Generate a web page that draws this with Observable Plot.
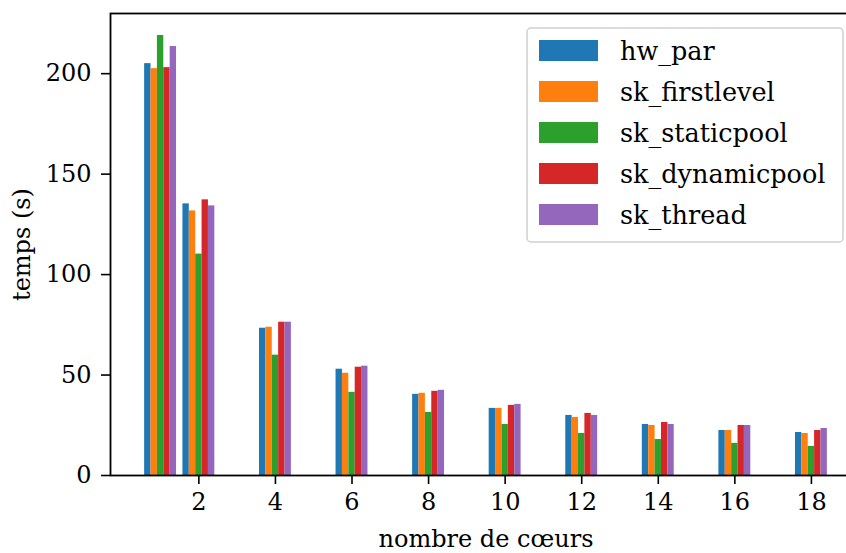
<!DOCTYPE html>
<html><head><meta charset="utf-8">
<script src="https://cdn.jsdelivr.net/npm/d3@7"></script>
<script src="https://cdn.jsdelivr.net/npm/@observablehq/plot@0.6"></script>
<style>
html,body{margin:0;padding:0;background:#fff;overflow:hidden;width:846px;height:553px}
#chart svg{max-width:none !important;}
</style>
</head><body><div id="chart"></div>
<script>
// ---- data ----
const cores = [1, 2, 4, 6, 8, 10, 12, 14, 16, 18];
const seriesNames = ["hw_par", "sk_firstlevel", "sk_staticpool", "sk_dynamicpool", "sk_thread"];
const hw_par         = [205.0, 135.2, 73.3, 52.9, 40.4, 33.4, 29.9, 25.4, 22.4, 21.4];
const sk_firstlevel  = [202.5, 131.7, 73.8, 50.9, 40.9, 33.4, 28.9, 24.9, 22.4, 20.9];
const sk_staticpool  = [219.0, 110.2, 59.9, 41.4, 31.4, 25.4, 20.9, 17.9, 16.0, 14.5];
const sk_dynamicpool = [203.0, 137.2, 76.3, 53.9, 41.9, 34.9, 30.9, 26.4, 24.9, 22.4];
const sk_thread      = [213.5, 134.2, 76.3, 54.4, 42.4, 35.4, 29.9, 25.4, 24.9, 23.4];
const colors = ["#1f77b4", "#ff7f0e", "#2ca02c", "#d62728", "#9467bd"];
const xTicks = [2, 4, 6, 8, 10, 12, 14, 16, 18];
const yTicks = [0, 50, 100, 150, 200];
const xLabel = "nombre de cœurs";
const yLabel = "temps (s)";

// ---- build table ----
const values = [hw_par, sk_firstlevel, sk_staticpool, sk_dynamicpool, sk_thread];
const barWidth = 1 / 6;
const rows = [];
seriesNames.forEach((s, i) => cores.forEach((c, j) => rows.push({
  series: s, cores: c, value: values[i][j],
  x1: c + (i - 2.5) * barWidth, x2: c + (i - 1.5) * barWidth
})));
const xmin = d3.min(rows, d => d.x1), xmax = d3.max(rows, d => d.x2);
const xpad = 0.05 * (xmax - xmin);
const ymax = d3.max(rows, d => d.value) * 1.05;

const FONT = "DejaVu Serif";
const W = 870;
const chart = Plot.plot({
  width: W, height: 553,
  marginLeft: 110, marginRight: 9, marginTop: 13, marginBottom: 78,
  style: {fontSize: "24px", background: "white", color: "black", maxWidth: "none", fontFamily: FONT},
  x: {domain: [xmin - xpad, xmax + xpad]},
  y: {domain: [0, ymax]},
  color: {domain: seriesNames, range: colors},
  marks: [
    Plot.rectY(rows, {x1: "x1", x2: "x2", y: "value", fill: "series"}),
    Plot.axisX({ticks: xTicks, tickSize: 9, tickPadding: 8, label: null, strokeWidth: 1.6}),
    Plot.axisY({ticks: yTicks, tickSize: 9, tickPadding: 10, label: null, strokeWidth: 1.6}),
    Plot.frame({stroke: "black", strokeWidth: 1.8}),
    Plot.text([xLabel], {text: d => d, frameAnchor: "bottom", lineAnchor: "middle", textAnchor: "middle", dy: 64, fontSize: 24}),
    Plot.text([yLabel], {text: d => d, frameAnchor: "left", lineAnchor: "middle", textAnchor: "middle", dx: -88, rotate: -90, fontSize: 24})
  ]
});
document.getElementById("chart").appendChild(chart);

// ---- legend ----
const svg = d3.select(chart);
const lg = svg.append("g");
lg.append("rect").attr("x", 527).attr("y", 28).attr("width", 316).attr("height", 214)
  .attr("rx", 4).attr("fill", "white").attr("fill-opacity", 0.8)
  .attr("stroke", "#d0d0d0").attr("stroke-width", 1.5);
seriesNames.forEach((s, i) => {
  const cy = 50.5 + i * 41;
  lg.append("rect").attr("x", 539).attr("y", cy - 10.5).attr("width", 59).attr("height", 21).attr("fill", colors[i]);
  lg.append("text").attr("x", 620).attr("y", cy).attr("dy", "0.36em")
    .attr("text-anchor", "start")
    .attr("font-size", 25.5).attr("fill", "black").text(s);
});
</script>
</body></html>
